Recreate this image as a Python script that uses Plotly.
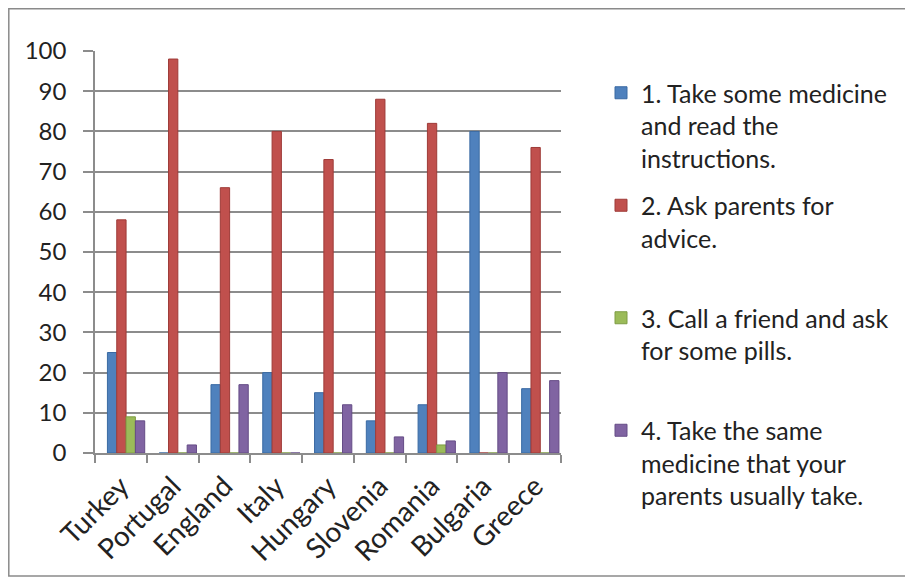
import plotly.graph_objects as go

countries = ["Turkey", "Portugal", "England", "Italy", "Hungary", "Slovenia", "Romania", "Bulgaria", "Greece"]
series_names = [
    "1. Take some medicine<br>and read the<br>instructions.",
    "2. Ask parents for<br>advice.<br> ",
    "3. Call a friend and ask<br>for some pills.<br> ",
    "4. Take the same<br>medicine that your<br>parents usually take.",
]
s1 = [25, 0, 17, 20, 15, 8, 12, 80, 16]
s2 = [58, 98, 66, 80, 73, 88, 82, 0, 76]
s3 = [9, 0, 0, 0, 0, 0, 2, 0, 0]
s4 = [8, 2, 17, 0, 12, 4, 3, 20, 18]
colors = ["#4F81BD", "#C0504D", "#9BBB59", "#8064A2"]
lines = ["#3A6AA3", "#9E3B38", "#7E9C44", "#654C86"]
y_ticks = list(range(0, 101, 10))

BAR_W = 0.18
START = -0.26

fig = go.Figure()
for i, (name, vals, c, lc) in enumerate(zip(series_names, [s1, s2, s3, s4], colors, lines)):
    fig.add_trace(go.Bar(
        x=countries, y=vals, name=name,
        width=BAR_W, offset=START + i * BAR_W,
        marker=dict(color=c, line=dict(color=lc, width=1)),
        legendgroup=name,
    ))

# page body has an 8px margin; design in page pixels and shift
OFF = 8
W, H = 913 - OFF, 579 - OFF
L, R, T, B = 95 - OFF, 561 - OFF, 51 - OFF, 453 - OFF
pw, ph = R - L, B - T

def px(p):
    return (p - OFF - L) / pw

def py(p):
    return (B - (p - OFF)) / ph

fig.add_shape(type="rect", xref="paper", yref="paper",
              x0=px(8.8), x1=px(906), y0=py(8.8), y1=py(576),
              line=dict(color="#8a8a8a", width=1.5), fillcolor="rgba(0,0,0,0)", layer="below")

fig.update_layout(
    width=W, height=H,
    margin=dict(l=L, r=W - R, t=T, b=H - B, pad=0),
    paper_bgcolor="white", plot_bgcolor="white",
    barmode="group", bargap=0.28, bargroupgap=0,
    font=dict(family="Lato, 'Noto Sans', sans-serif", color="#222222"),
    showlegend=True,
    legend=dict(
        x=px(601), y=py(70), xanchor="left", yanchor="top",
        font=dict(size=25, color="#222222"),
        valign="top", tracegroupgap=12, maxheight=560,
        bgcolor="rgba(0,0,0,0)",
    ),
    yaxis=dict(
        range=[0, 100], tickvals=y_ticks, ticktext=[str(v) for v in y_ticks],
        showgrid=True, gridcolor="#8c8c8c", gridwidth=1.5,
        showline=True, linecolor="#8c8c8c", linewidth=1.5,
        ticks="outside", ticklen=10, tickcolor="#8c8c8c", tickwidth=1.5,
        ticklabelstandoff=12,
        tickfont=dict(size=24, color="#222222"), zeroline=False,
    ),
    xaxis=dict(
        type="category", tickson="boundaries",
        showline=True, linecolor="#8c8c8c", linewidth=1.5,
        ticks="outside", ticklen=8, tickcolor="#8c8c8c", tickwidth=1.5,
        ticklabelstandoff=4,
        tickangle=-45, tickfont=dict(size=28, color="#222222"),
        showgrid=False,
    ),
)

fig.write_html("out.html")
